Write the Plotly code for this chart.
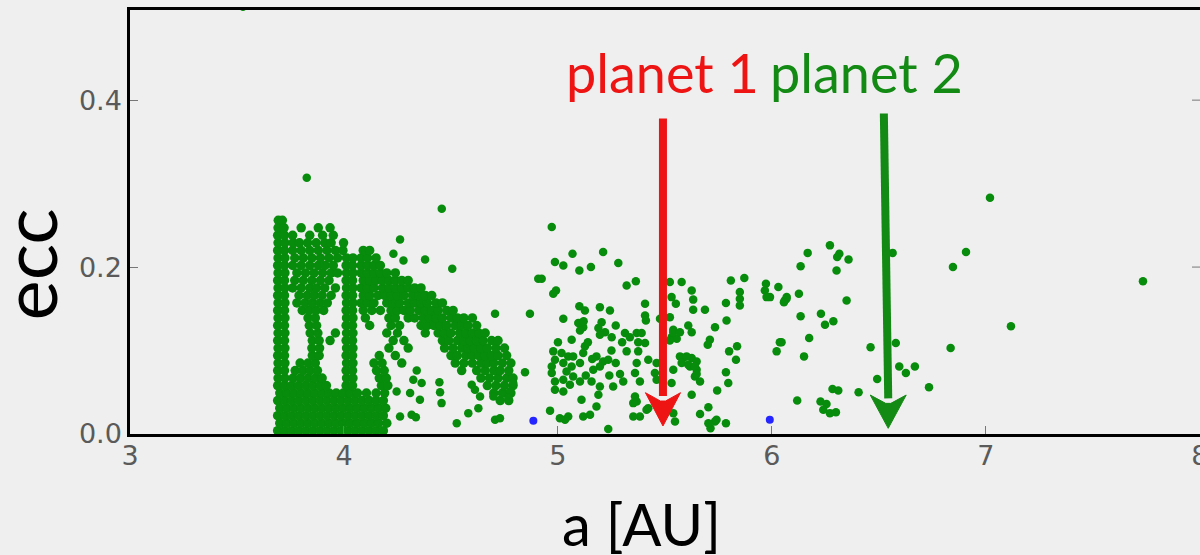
import plotly.graph_objects as go

# ---------------- data ----------------
# dense part of the cloud, one entry per eccentricity row: (ecc, [a values])
dense_rows = [
    (0.004, [3.690, 3.722, 3.755, 3.788, 3.821, 3.854, 3.887, 3.920, 3.953, 3.986, 4.019, 4.052, 4.085, 4.118, 4.151, 4.184]),
    (0.013, [3.700, 3.733, 3.766, 3.799, 3.832, 3.865, 3.898, 3.931, 3.964, 3.997, 4.030, 4.063, 4.096, 4.129, 4.162, 4.200]),
    (0.022, [3.690, 3.722, 3.755, 3.788, 3.821, 3.854, 3.887, 3.920, 3.953, 3.986, 4.019, 4.052, 4.085, 4.118, 4.151, 4.184]),
    (0.031, [3.700, 3.733, 3.766, 3.799, 3.832, 3.865, 3.898, 3.931, 3.964, 3.997, 4.030, 4.063, 4.096, 4.129, 4.162, 4.195]),
    (0.040, [3.690, 3.722, 3.755, 3.788, 3.821, 3.854, 3.887, 3.920, 3.953, 3.986, 4.019, 4.052, 4.085, 4.118, 4.151, 4.184, 4.73, 4.77]),
    (0.049, [3.700, 3.733, 3.766, 3.799, 3.832, 3.865, 3.898, 3.931, 3.964, 3.997, 4.030, 4.063, 4.105, 4.150, 4.190, 4.70, 4.74, 4.78]),
    (0.058, [3.690, 3.722, 3.755, 3.788, 3.821, 3.854, 3.887, 3.918, 4.010, 4.040, 4.175, 4.205, 4.67, 4.71, 4.75, 4.79]),
    (0.067, [3.692, 3.724, 3.762, 3.797, 3.832, 3.866, 3.898, 4.012, 4.042, 4.165, 4.198, 4.64, 4.68, 4.72, 4.76, 4.79]),
    (0.076, [3.690, 3.722, 3.772, 3.808, 3.842, 3.876, 4.010, 4.040, 4.152, 4.188, 4.55, 4.62, 4.66, 4.70, 4.73, 4.77]),
    (0.085, [3.692, 3.724, 3.795, 3.832, 3.866, 4.012, 4.042, 4.140, 4.178, 4.270, 4.52, 4.56, 4.60, 4.64, 4.67, 4.70, 4.74, 4.78]),
    (0.094, [3.690, 3.722, 3.852, 3.884, 4.010, 4.040, 4.165, 4.240, 4.50, 4.53, 4.57, 4.60, 4.63, 4.66, 4.69, 4.72, 4.76]),
    (0.103, [3.692, 3.724, 3.850, 3.886, 4.012, 4.042, 4.210, 4.300, 4.47, 4.51, 4.55, 4.58, 4.61, 4.64, 4.67, 4.71, 4.75]),
    (0.112, [3.690, 3.722, 3.852, 3.884, 3.935, 4.010, 4.040, 4.230, 4.280, 4.46, 4.49, 4.53, 4.56, 4.59, 4.62, 4.65, 4.69, 4.72]),
    (0.121, [3.692, 3.724, 3.842, 3.878, 3.960, 4.012, 4.042, 4.200, 4.250, 4.38, 4.44, 4.47, 4.50, 4.54, 4.57, 4.60, 4.63, 4.66]),
    (0.130, [3.690, 3.722, 3.838, 3.872, 4.010, 4.040, 4.120, 4.220, 4.260, 4.36, 4.39, 4.42, 4.45, 4.48, 4.52, 4.55, 4.58, 4.62]),
    (0.139, [3.692, 3.724, 3.832, 3.866, 4.012, 4.042, 4.100, 4.210, 4.240, 4.300, 4.33, 4.37, 4.40, 4.43, 4.46, 4.50, 4.53, 4.56, 4.60]),
    (0.148, [3.690, 3.722, 3.805, 3.838, 3.870, 3.905, 4.010, 4.040, 4.090, 4.130, 4.170, 4.220, 4.250, 4.280, 4.310, 4.35, 4.38, 4.41, 4.44, 4.48, 4.51]),
    (0.157, [3.692, 3.724, 3.780, 3.818, 3.852, 3.888, 3.922, 4.012, 4.042, 4.080, 4.110, 4.140, 4.200, 4.230, 4.260, 4.300, 4.330, 4.36, 4.39, 4.43, 4.46]),
    (0.166, [3.690, 3.722, 3.790, 3.828, 3.862, 3.898, 3.940, 4.010, 4.040, 4.090, 4.120, 4.160, 4.190, 4.220, 4.250, 4.280, 4.320, 4.350, 4.38, 4.41]),
    (0.175, [3.692, 3.724, 3.760, 3.800, 3.840, 3.872, 3.910, 3.960, 4.012, 4.042, 4.080, 4.110, 4.140, 4.180, 4.210, 4.240, 4.270, 4.300, 4.330, 4.360]),
    (0.184, [3.690, 3.722, 3.770, 3.810, 3.850, 3.890, 3.930, 4.010, 4.040, 4.090, 4.120, 4.150, 4.180, 4.210, 4.240, 4.270, 4.300]),
    (0.193, [3.692, 3.724, 3.780, 3.820, 3.860, 3.900, 3.940, 3.970, 4.012, 4.042, 4.080, 4.110, 4.140, 4.170, 4.200, 4.240]),
    (0.202, [3.690, 3.722, 3.760, 3.800, 3.840, 3.880, 3.912, 3.950, 4.010, 4.040, 4.080, 4.110, 4.140, 4.170]),
    (0.211, [3.692, 3.724, 3.770, 3.810, 3.850, 3.890, 3.930, 3.970, 4.012, 4.042, 4.080, 4.110, 4.150]),
    (0.220, [3.690, 3.722, 3.760, 3.800, 3.840, 3.880, 3.920, 3.960, 3.995, 4.090, 4.120]),
    (0.229, [3.692, 3.724, 3.762, 3.792, 3.830, 3.870, 3.910, 3.940, 3.998]),
    (0.238, [3.690, 3.722, 3.760, 3.840, 3.900, 3.950]),
    (0.247, [3.692, 3.720, 3.800, 3.880, 3.935]),
    (0.256, [3.693, 3.712]),
]

# scattered points left of 4.9 AU: (a, ecc)
sparse_inner = [
    (3.528, 0.512), (3.826, 0.307), (4.457, 0.270), (4.262, 0.233), (4.231, 0.216),
    (4.278, 0.208), (4.379, 0.209), (4.506, 0.198), (4.706, 0.144), (4.869, 0.144),
    (4.908, 0.186), (4.246, 0.051), (4.262, 0.021), (4.309, 0.049), (4.316, 0.023),
    (4.324, 0.065), (4.336, 0.020), (4.340, 0.076), (4.355, 0.041), (4.363, 0.061),
    (4.446, 0.062), (4.449, 0.050), (4.456, 0.037), (4.527, 0.013), (4.581, 0.025),
    (4.628, 0.031), (4.706, 0.017), (4.729, 0.019), (4.597, 0.059), (4.612, 0.053),
    (4.636, 0.045), (4.698, 0.045), (4.846, 0.074), (4.791, 0.061), (4.776, 0.051),
    (4.768, 0.043),
]

# cloud between 4.9 and 5.5 AU
sparse_mid = [
    (4.971, 0.248), (5.068, 0.216), (5.211, 0.218), (4.986, 0.206), (5.025, 0.202),
    (5.100, 0.196), (5.154, 0.200), (5.282, 0.205), (4.924, 0.186), (4.991, 0.172),
    (4.978, 0.168), (5.321, 0.178), (5.364, 0.183), (5.100, 0.153), (5.126, 0.148),
    (5.196, 0.152), (5.243, 0.148), (5.025, 0.138), (5.095, 0.133), (5.118, 0.128),
    (5.103, 0.124), (5.064, 0.113), (5.204, 0.134), (5.189, 0.127), (5.220, 0.122),
    (5.251, 0.116), (5.196, 0.119), (5.126, 0.105), (5.118, 0.097), (5.313, 0.121),
    (5.336, 0.116), (5.368, 0.121), (5.391, 0.121), (5.375, 0.110), (5.407, 0.109),
    (5.407, 0.156), (5.407, 0.142), (5.411, 0.136), (4.978, 0.099), (5.017, 0.097),
    (5.048, 0.093), (4.986, 0.089), (5.025, 0.085), (4.971, 0.081), (5.071, 0.093),
    (5.103, 0.085), (5.064, 0.081), (5.180, 0.093), (5.211, 0.087), (5.196, 0.081),
    (5.235, 0.089), (5.165, 0.077), (5.321, 0.099), (5.375, 0.099), (5.368, 0.085),
    (5.422, 0.089), (4.971, 0.073), (4.986, 0.063), (5.025, 0.065), (5.071, 0.069),
    (5.056, 0.059), (5.103, 0.063), (4.986, 0.053), (5.025, 0.051), (5.157, 0.063),
    (5.196, 0.057), (5.258, 0.057), (5.305, 0.063), (5.360, 0.073), (5.383, 0.063),
    (5.189, 0.047), (5.110, 0.041), (5.368, 0.039), (5.422, 0.031), (5.383, 0.021),
    (5.352, 0.021), (4.963, 0.028), (5.048, 0.021), (5.033, 0.017), (5.118, 0.021),
    (5.150, 0.023), (5.180, 0.033), (5.235, 0.006), (5.009, 0.019), (5.477, 0.138),
    (5.461, 0.085), (5.453, 0.073), (5.461, 0.065), (5.352, 0.037), (5.414, 0.029),
    (5.360, 0.045), (5.140, 0.110), (5.160, 0.090), (5.250, 0.100), (5.270, 0.085),
    (5.290, 0.072), (5.000, 0.110), (5.040, 0.075), (5.130, 0.070), (5.240, 0.070),
    (5.300, 0.110), (5.120, 0.135), (5.270, 0.130),
]

# cloud between 5.5 and 6.1 AU
sparse_outer = [
    (5.523, 0.182), (5.578, 0.182), (5.625, 0.172), (5.632, 0.161), (5.551, 0.156),
    (5.632, 0.149), (5.687, 0.149), (5.808, 0.184), (5.871, 0.187), (5.850, 0.170),
    (5.850, 0.162), (5.850, 0.154), (5.785, 0.157), (5.788, 0.136), (5.972, 0.180),
    (5.967, 0.172), (5.991, 0.164), (6.030, 0.176), (6.060, 0.160), (5.523, 0.140),
    (5.609, 0.130), (5.625, 0.122), (5.734, 0.128), (5.539, 0.125), (5.531, 0.116),
    (5.555, 0.114), (5.710, 0.113), (5.700, 0.107), (6.037, 0.110), (6.022, 0.099),
    (5.800, 0.099), (5.837, 0.105), (5.832, 0.089), (5.585, 0.091), (5.625, 0.091),
    (5.648, 0.087), (5.617, 0.081), (5.648, 0.077), (5.640, 0.069), (5.539, 0.077),
    (5.531, 0.061), (5.664, 0.063), (5.785, 0.074), (5.796, 0.061), (5.744, 0.052),
    (5.625, 0.047), (5.664, 0.024), (5.703, 0.032), (5.734, 0.015), (5.785, 0.013),
    (5.713, 0.007), (5.539, 0.025), (5.547, 0.015), (5.531, 0.164), (5.539, 0.122),
    (5.570, 0.122), (5.523, 0.112), (5.570, 0.093), (5.601, 0.093), (5.578, 0.085),
    (5.609, 0.083), (5.640, 0.081), (5.648, 0.072), (5.703, 0.013), (5.741, 0.017),
    (5.975, 0.164), (6.069, 0.164),
]

# sparse points beyond 6 AU
sparse_far = [
    (6.167, 0.217), (6.271, 0.226), (6.315, 0.216), (6.305, 0.212), (6.358, 0.209),
    (6.134, 0.201), (6.302, 0.196), (6.564, 0.217), (6.068, 0.162), (6.056, 0.158),
    (6.126, 0.168), (6.349, 0.160), (6.134, 0.141), (6.229, 0.144), (6.248, 0.131),
    (6.287, 0.135), (6.045, 0.110), (6.174, 0.115), (6.150, 0.093), (6.461, 0.104),
    (6.579, 0.109), (6.595, 0.081), (6.626, 0.073), (6.668, 0.081), (6.492, 0.066),
    (6.734, 0.056), (6.283, 0.054), (6.310, 0.052), (6.405, 0.050), (6.118, 0.040),
    (6.227, 0.039), (6.255, 0.036), (6.240, 0.029), (6.271, 0.025), (6.299, 0.026),
    (6.835, 0.103), (7.117, 0.129), (7.019, 0.283), (7.734, 0.183), (6.907, 0.218),
    (6.846, 0.200),
]

# two blue bodies
blue_pts = [(4.885, 0.016), (5.990, 0.017)]

x_ticks = [3, 4, 5, 6, 7, 8]
y_ticks = [0.0, 0.2, 0.4]

planet_labels = ["planet 1", "planet 2"]

# ---------------- build ----------------
dense_a, dense_e = [], []
for e, avals in dense_rows:
    for a in avals:
        dense_a.append(a)
        dense_e.append(e)
sparse_a, sparse_e = [], []
for group in (sparse_inner, sparse_mid, sparse_outer, sparse_far):
    for a, e in group:
        sparse_a.append(a)
        sparse_e.append(e)

blue_a = [p[0] for p in blue_pts]
blue_e = [p[1] for p in blue_pts]

GREEN = "#078c0b"
BG = "#efefef"
TICK_GREY = "#5a5a5a"

fig = go.Figure()
fig.add_trace(go.Scatter(x=dense_a, y=dense_e, mode="markers",
                         marker=dict(color=GREEN, size=9.5, line=dict(width=0)),
                         hoverinfo="skip", showlegend=False))
fig.add_trace(go.Scatter(x=sparse_a, y=sparse_e, mode="markers",
                         marker=dict(color=GREEN, size=8.5, line=dict(width=0)),
                         hoverinfo="skip", showlegend=False))
fig.add_trace(go.Scatter(x=blue_a, y=blue_e, mode="markers",
                         marker=dict(color="#2525ff", size=8, line=dict(width=0)),
                         hoverinfo="skip", showlegend=False))

tickfont = dict(family="DejaVu Sans", size=27, color=TICK_GREY)
fig.update_layout(
    xaxis=dict(range=[3, 8.0005], tickmode="array", tickvals=x_ticks,
               ticktext=[str(v) for v in x_ticks], ticklabeloverflow="allow",
               automargin=False, ticklabelstandoff=-4,
               ticks="inside", ticklen=8, tickcolor="#777", tickwidth=1,
               showline=True, linecolor="black", linewidth=2.5, mirror=True,
               showgrid=False, zeroline=False, tickfont=tickfont),
    yaxis=dict(range=[0, 0.508], tickmode="array", tickvals=y_ticks,
               ticktext=[f"{v:.1f}" for v in y_ticks], automargin=False,
               ticks="inside", ticklen=8, tickcolor="#777", tickwidth=1,
               showline=True, linecolor="black", linewidth=2.5,
               showgrid=False, zeroline=False, tickfont=tickfont),
)

shapes = []
# right-side ticks (the right spine itself lies just outside the picture)
for v in y_ticks[1:]:
    shapes.append(dict(type="line", xref="paper", xsizemode="pixel", xanchor=1,
                       x0=-8, x1=0, yref="y", y0=v, y1=v,
                       line=dict(color="#777", width=1)))


def arrow(x_top, y_top, x_tip, y_tip, y_head, half_w, notch, color):
    out = []
    out.append(dict(type="line", xref="x", yref="y", x0=x_top, y0=y_top,
                    x1=x_tip, y1=y_head - 0.004, line=dict(color=color, width=8),
                    layer="above"))
    path = (f"M {x_tip - half_w},{y_head} L {x_tip},{y_tip} L {x_tip + half_w},{y_head} "
            f"L {x_tip + 0.012},{y_head - notch} L {x_tip - 0.012},{y_head - notch} Z")
    out.append(dict(type="path", xref="x", yref="y", path=path,
                    fillcolor=color, line=dict(color=color, width=1), layer="above"))
    return out


shapes += arrow(5.4907, 0.378, 5.4907, 0.0096, 0.0495, 0.082, 0.010, "#ee1414")
shapes += arrow(6.523, 0.384, 6.5435, 0.0068, 0.0467, 0.084, 0.010, "#138a13")

annotations = [
    dict(text=planet_labels[0], x=5.4907, y=0.433, xref="x", yref="y", showarrow=False,
         font=dict(family="Lato", size=54, color="#ee1414"), xanchor="center", yanchor="middle"),
    dict(text=planet_labels[1], x=6.440, y=0.433, xref="x", yref="y", showarrow=False,
         font=dict(family="Lato", size=54, color="#138a13"), xanchor="center", yanchor="middle"),
    dict(text="ecc", x=-0.0962, y=0.40, xref="paper", yref="paper", showarrow=False,
         textangle=-90, font=dict(family="Lato", size=76, color="black"),
         xanchor="center", yanchor="middle"),
    dict(text="a [AU]", x=0.4785, y=-0.211, xref="paper", yref="paper", showarrow=False,
         font=dict(family="Lato", size=58, color="black"), xanchor="center", yanchor="middle"),
]

fig.update_layout(width=1200, height=555,
                  margin=dict(l=130, r=0, t=10, b=121, autoexpand=False),
                  paper_bgcolor=BG, plot_bgcolor=BG, shapes=shapes,
                  font=dict(family="DejaVu Sans", size=27, color=TICK_GREY),
                  annotations=annotations, showlegend=False)

fig.write_html("out.html")
